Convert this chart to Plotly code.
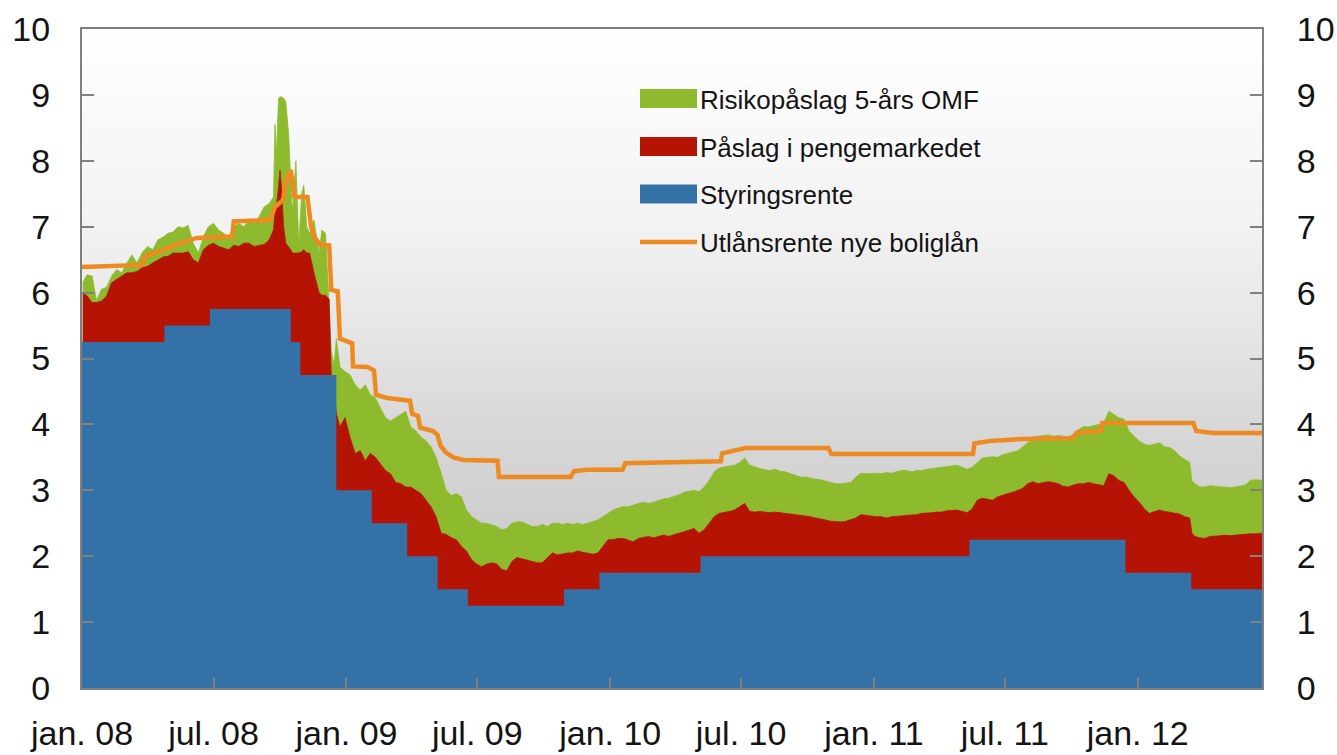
import base64
import struct
import zlib

import plotly.graph_objects as go

# ---------------- data ----------------
# Policy rate (Styringsrente), step changes
policy_dates = ["2008-01-01", "2008-04-24", "2008-06-26", "2008-10-16", "2008-10-29",
                "2008-12-18", "2009-02-05", "2009-03-26", "2009-05-07", "2009-06-18",
                "2009-10-29", "2009-12-17", "2010-05-06", "2011-05-13", "2011-12-15",
                "2012-03-15", "2012-06-21"]
policy_rate = [5.25, 5.50, 5.75, 5.25, 4.75, 3.00, 2.50, 2.00, 1.50, 1.25,
               1.50, 1.75, 2.00, 2.25, 1.75, 1.50, 1.50]

# Money-market level (policy rate + Påslag i pengemarkedet) and
# total level (+ Risikopåslag 5-års OMF)
mm_dates = [
    "2008-01-02", "2008-01-08", "2008-01-15", "2008-01-21", "2008-01-28", "2008-02-04",
    "2008-02-11", "2008-02-18", "2008-02-25", "2008-03-03", "2008-03-10", "2008-03-17",
    "2008-03-25", "2008-04-01", "2008-04-08", "2008-04-15", "2008-04-22", "2008-04-29",
    "2008-05-06", "2008-05-13", "2008-05-20", "2008-05-27", "2008-06-03", "2008-06-10",
    "2008-06-17", "2008-06-24", "2008-07-01", "2008-07-08", "2008-07-15", "2008-07-22",
    "2008-07-29", "2008-08-05", "2008-08-12", "2008-08-19", "2008-08-26", "2008-09-02",
    "2008-09-09", "2008-09-16", "2008-09-22", "2008-09-24", "2008-09-26", "2008-09-29",
    "2008-10-01", "2008-10-03", "2008-10-06", "2008-10-09", "2008-10-13", "2008-10-16",
    "2008-10-18", "2008-10-23", "2008-10-27", "2008-10-31", "2008-11-03", "2008-11-07",
    "2008-11-11", "2008-11-17", "2008-11-24", "2008-11-28", "2008-12-03", "2008-12-08",
    "2008-12-11", "2008-12-15", "2008-12-18", "2008-12-23", "2008-12-30",
    "2009-01-06", "2009-01-13", "2009-01-20", "2009-01-27", "2009-02-03", "2009-02-10",
    "2009-02-17", "2009-02-24", "2009-03-03", "2009-03-10", "2009-03-17", "2009-03-24",
    "2009-03-31", "2009-04-07", "2009-04-14", "2009-04-21", "2009-04-28", "2009-05-05",
    "2009-05-12", "2009-05-19", "2009-05-26", "2009-06-02", "2009-06-09", "2009-06-16",
    "2009-06-23", "2009-06-30", "2009-07-07", "2009-07-14", "2009-07-21", "2009-07-28",
    "2009-08-04", "2009-08-11", "2009-08-18", "2009-08-25", "2009-09-01", "2009-09-08",
    "2009-09-15", "2009-09-22", "2009-09-29", "2009-10-06", "2009-10-13", "2009-10-20",
    "2009-10-27", "2009-11-03", "2009-11-10", "2009-11-17", "2009-11-24", "2009-12-01",
    "2009-12-08", "2009-12-15", "2009-12-22", "2009-12-29",
    "2010-01-05", "2010-01-12", "2010-01-19", "2010-01-26", "2010-02-02", "2010-02-09",
    "2010-02-16", "2010-02-23", "2010-03-02", "2010-03-09", "2010-03-16", "2010-03-23",
    "2010-03-30", "2010-04-06", "2010-04-13", "2010-04-20", "2010-04-27", "2010-05-04",
    "2010-05-11", "2010-05-18", "2010-05-25", "2010-06-01", "2010-06-08", "2010-06-15",
    "2010-06-22", "2010-06-29", "2010-07-06", "2010-07-13", "2010-07-20", "2010-07-27",
    "2010-08-03", "2010-08-10", "2010-08-17", "2010-08-24", "2010-08-31", "2010-09-07",
    "2010-09-14", "2010-09-21", "2010-09-28", "2010-10-05", "2010-10-12", "2010-10-19",
    "2010-10-26", "2010-11-02", "2010-11-09", "2010-11-16", "2010-11-23", "2010-11-30",
    "2010-12-07", "2010-12-14", "2010-12-21", "2010-12-28",
    "2011-01-04", "2011-01-11", "2011-01-18", "2011-01-25", "2011-02-01", "2011-02-08",
    "2011-02-15", "2011-02-22", "2011-03-01", "2011-03-08", "2011-03-15", "2011-03-22",
    "2011-03-29", "2011-04-05", "2011-04-12", "2011-04-19", "2011-04-26", "2011-05-03",
    "2011-05-10", "2011-05-17", "2011-05-24", "2011-05-31", "2011-06-07", "2011-06-14",
    "2011-06-21", "2011-06-28", "2011-07-05", "2011-07-12", "2011-07-19", "2011-07-26",
    "2011-08-02", "2011-08-09", "2011-08-16", "2011-08-23", "2011-08-30", "2011-09-06",
    "2011-09-13", "2011-09-20", "2011-09-27", "2011-10-04", "2011-10-11", "2011-10-18",
    "2011-10-25", "2011-11-01", "2011-11-08", "2011-11-15", "2011-11-22", "2011-11-29",
    "2011-12-06", "2011-12-13", "2011-12-20", "2011-12-27",
    "2012-01-03", "2012-01-10", "2012-01-17", "2012-01-24", "2012-01-31", "2012-02-07",
    "2012-02-14", "2012-02-21", "2012-02-28", "2012-03-06", "2012-03-13", "2012-03-16",
    "2012-03-20", "2012-03-27", "2012-04-03", "2012-04-10", "2012-04-17", "2012-04-24",
    "2012-05-01", "2012-05-08", "2012-05-15", "2012-05-22", "2012-05-29", "2012-06-05",
    "2012-06-12", "2012-06-21"]

mm_level = [
    6.00, 5.95, 5.85, 5.85, 5.87, 5.95,
    6.15, 6.20, 6.25, 6.30, 6.30, 6.32,
    6.38, 6.40, 6.45, 6.50, 6.54, 6.55,
    6.60, 6.60, 6.60, 6.62, 6.50, 6.45,
    6.65, 6.72, 6.75, 6.70, 6.68, 6.65,
    6.72, 6.70, 6.75, 6.75, 6.70, 6.72,
    6.73, 6.80, 6.95, 7.20, 7.30, 7.60,
    7.86, 7.60, 7.00, 6.75, 6.70, 6.65,
    6.60, 6.60, 6.60, 6.62, 6.65, 6.60,
    6.60, 6.30, 6.00, 5.96, 5.96, 5.90,
    4.70, 4.50, 4.17, 3.96, 4.10,
    3.80, 3.56, 3.60, 3.45, 3.56, 3.50,
    3.40, 3.30, 3.25, 3.12, 3.10, 3.05,
    3.05, 3.00, 2.95, 2.85, 2.75, 2.60,
    2.35, 2.33, 2.28, 2.25, 2.15, 2.08,
    1.95, 1.88, 1.84, 1.88, 1.90, 1.88,
    1.80, 1.78, 1.92, 1.98, 1.96, 1.94,
    1.92, 1.90, 1.90, 1.98, 2.05, 2.02,
    2.04, 2.05, 2.05, 2.08, 2.06, 2.05,
    2.03, 2.05, 2.15, 2.25,
    2.25, 2.27, 2.27, 2.25, 2.22, 2.27,
    2.28, 2.30, 2.28, 2.30, 2.32, 2.30,
    2.33, 2.35, 2.37, 2.40, 2.42, 2.35,
    2.40, 2.50, 2.60, 2.65, 2.66, 2.68,
    2.70, 2.75, 2.80, 2.68, 2.67, 2.68,
    2.67, 2.66, 2.67, 2.66, 2.65, 2.64,
    2.64, 2.63, 2.61, 2.60, 2.58, 2.57,
    2.55, 2.53, 2.52, 2.52, 2.53, 2.55,
    2.58, 2.63, 2.62, 2.60,
    2.60, 2.60, 2.58, 2.60, 2.60, 2.61,
    2.62, 2.62, 2.63, 2.65, 2.65, 2.66,
    2.67, 2.67, 2.69, 2.70, 2.70, 2.68,
    2.66, 2.72, 2.85, 2.88, 2.86, 2.85,
    2.90, 2.93, 2.95, 2.97, 3.00, 3.03,
    3.10, 3.13, 3.10, 3.12, 3.13, 3.12,
    3.10, 3.06, 3.05, 3.08, 3.10, 3.10,
    3.12, 3.10, 3.08, 3.07, 3.25, 3.22,
    3.15, 3.12, 3.00, 2.90,
    2.82, 2.72, 2.65, 2.68, 2.70, 2.68,
    2.67, 2.66, 2.64, 2.60, 2.58, 2.35,
    2.30, 2.28, 2.27, 2.30, 2.30, 2.31,
    2.32, 2.31, 2.32, 2.33, 2.33, 2.34,
    2.34, 2.35]

total_level = [
    6.15, 6.27, 6.25, 5.88, 6.05, 6.08,
    6.25, 6.35, 6.30, 6.45, 6.57, 6.45,
    6.62, 6.70, 6.65, 6.80, 6.84, 6.90,
    6.92, 7.00, 6.98, 7.02, 6.75, 6.60,
    6.85, 7.00, 7.05, 6.95, 6.90, 6.84,
    7.00, 7.05, 7.00, 7.10, 7.05, 7.15,
    7.30, 7.35, 7.45, 8.55, 8.10, 8.95,
    8.97, 8.97, 8.95, 8.90, 8.40, 7.80,
    7.20, 8.00, 6.70, 7.50, 7.63, 7.00,
    6.90, 7.10, 6.60, 6.95, 6.90, 5.80,
    5.10, 4.90, 5.30, 4.87, 4.80,
    4.75, 4.60, 4.52, 4.60, 4.45, 4.40,
    4.25, 4.10, 4.05, 4.10, 4.15, 4.20,
    3.96, 3.90, 3.81, 3.75, 3.66, 3.50,
    3.26, 3.00, 2.92, 2.95, 2.90, 2.70,
    2.60, 2.55, 2.50, 2.50, 2.48, 2.45,
    2.40, 2.42, 2.50, 2.52, 2.52, 2.48,
    2.45, 2.45, 2.48, 2.45, 2.50, 2.50,
    2.48, 2.50, 2.48, 2.50, 2.48, 2.50,
    2.52, 2.55, 2.60, 2.65,
    2.70, 2.73, 2.75, 2.75, 2.78, 2.80,
    2.82, 2.80, 2.82, 2.85, 2.87, 2.88,
    2.90, 2.93, 2.97, 2.98, 3.00, 2.98,
    3.05, 3.15, 3.28, 3.34, 3.35, 3.36,
    3.38, 3.42, 3.49, 3.38, 3.35, 3.33,
    3.31, 3.30, 3.32, 3.29, 3.28, 3.25,
    3.22, 3.20, 3.20, 3.18, 3.17, 3.16,
    3.14, 3.11, 3.10, 3.10, 3.11, 3.12,
    3.20, 3.26, 3.25, 3.26,
    3.26, 3.25, 3.27, 3.26, 3.28, 3.30,
    3.30, 3.28, 3.30, 3.30, 3.32, 3.33,
    3.35, 3.36, 3.36, 3.38, 3.38, 3.35,
    3.32, 3.35, 3.42, 3.49, 3.50, 3.51,
    3.50, 3.54, 3.56, 3.58, 3.60, 3.66,
    3.72, 3.81, 3.82, 3.83, 3.84, 3.82,
    3.83, 3.82, 3.81, 3.85, 3.92, 3.97,
    3.96, 3.98, 4.00, 4.02, 4.20, 4.15,
    4.10, 4.08, 3.90, 3.82,
    3.75, 3.70, 3.68, 3.70, 3.72, 3.66,
    3.65, 3.60, 3.52, 3.47, 3.42, 3.15,
    3.10, 3.05, 3.05, 3.07, 3.06, 3.06,
    3.05, 3.04, 3.05, 3.06, 3.08, 3.15,
    3.16, 3.15]

# Lending rate on new mortgages (Utlånsrente nye boliglån)
lend_dates = ["2008-01-01", "2008-03-25", "2008-03-28", "2008-04-22", "2008-05-16",
              "2008-06-08", "2008-07-27", "2008-07-29", "2008-09-17", "2008-09-24",
              "2008-10-05", "2008-10-11", "2008-10-16", "2008-10-21", "2008-11-08",
              "2008-11-13", "2008-11-17", "2008-11-26", "2008-12-08", "2008-12-11",
              "2008-12-20", "2008-12-23", "2009-01-09", "2009-01-10", "2009-01-30",
              "2009-02-08", "2009-02-11", "2009-02-26", "2009-03-30", "2009-04-02",
              "2009-04-10", "2009-04-13", "2009-05-01", "2009-05-07", "2009-05-11",
              "2009-05-18", "2009-05-29", "2009-06-12", "2009-07-29", "2009-07-31",
              "2009-11-07", "2009-11-12", "2009-11-30", "2010-01-18", "2010-01-22",
              "2010-06-03", "2010-06-05", "2010-06-23", "2010-07-07", "2010-10-30",
              "2010-11-03", "2011-05-18", "2011-05-20", "2011-06-11", "2011-07-27",
              "2011-10-04", "2011-10-08", "2011-11-11", "2011-11-13", "2012-03-18",
              "2012-03-22", "2012-04-14", "2012-06-21"]
lend_rate = [6.39, 6.42, 6.55, 6.64, 6.75,
             6.83, 6.85, 7.08, 7.10, 7.30,
             7.40, 7.75, 7.86, 7.45, 7.45,
             7.00, 6.85, 6.72, 6.72, 6.04,
             6.02, 5.30, 5.23, 4.88, 4.87,
             4.82, 4.45, 4.40, 4.36, 4.16,
             4.13, 3.95, 3.90, 3.84, 3.68,
             3.58, 3.50, 3.46, 3.45, 3.20,
             3.20, 3.29, 3.31, 3.31, 3.41,
             3.44, 3.56, 3.60, 3.64, 3.64,
             3.55, 3.55, 3.71, 3.75, 3.78,
             3.79, 3.87, 3.90, 4.02, 4.02,
             3.90, 3.87, 3.87]

tick_dates = ["2008-01-01", "2008-07-01", "2009-01-01", "2009-07-01", "2010-01-01",
              "2010-07-01", "2011-01-01", "2011-07-01", "2012-01-01"]
tick_text = ["jan. 08", "jul. 08", "jan. 09", "jul. 09", "jan. 10",
             "jul. 10", "jan. 11", "jul. 11", "jan. 12"]
y_ticks = list(range(0, 11))

series_names = ["Risikopåslag 5-års OMF", "Påslag i pengemarkedet",
                "Styringsrente", "Utlånsrente nye boliglån"]

# ---------------- styles ----------------
GREEN = "#8DBB2D"
RED = "#B51405"
BLUE = "#3471A6"
ORANGE = "#EE8A22"
AXIS = "#808080"
FONT = "Liberation Sans"
TEXT = "#141414"


def gradient_png(stops, n=256):
    """Vertical grey gradient image (top -> bottom) for the plot background."""
    raw = b""
    for i in range(n):
        t = i / (n - 1)
        for j in range(len(stops) - 1):
            t0, c0 = stops[j]
            t1, c1 = stops[j + 1]
            if t0 <= t <= t1:
                f = (t - t0) / (t1 - t0) if t1 > t0 else 0
                g = round(c0 + (c1 - c0) * f)
                break
        raw += b"\x00" + bytes([g, g, g, g, g, g])

    def chunk(tag, data):
        return (struct.pack(">I", len(data)) + tag + data +
                struct.pack(">I", zlib.crc32(tag + data) & 0xFFFFFFFF))

    png = (b"\x89PNG\r\n\x1a\n" +
           chunk(b"IHDR", struct.pack(">IIBBBBB", 2, n, 8, 2, 0, 0, 0)) +
           chunk(b"IDAT", zlib.compress(raw)) + chunk(b"IEND", b""))
    return "data:image/png;base64," + base64.b64encode(png).decode()


bg_src = gradient_png([(0.0, 255), (0.3, 242), (0.45, 231), (0.6, 216), (0.8, 204), (1.0, 196)])

fig = go.Figure()

fig.add_trace(go.Scatter(x=mm_dates, y=total_level, name=series_names[0], mode="lines",
                         line=dict(width=0.8, color=GREEN), fill="tozeroy", fillcolor=GREEN,
                         showlegend=False, hoverinfo="skip"))
fig.add_trace(go.Scatter(x=mm_dates, y=mm_level, name=series_names[1], mode="lines",
                         line=dict(width=0.8, color=RED), fill="tozeroy", fillcolor=RED,
                         showlegend=False, hoverinfo="skip"))
fig.add_trace(go.Scatter(x=policy_dates, y=policy_rate, name=series_names[2], mode="lines",
                         line=dict(width=0, color=BLUE, shape="hv"), fill="tozeroy",
                         fillcolor=BLUE, showlegend=False, hoverinfo="skip"))
fig.add_trace(go.Scatter(x=lend_dates, y=lend_rate, name=series_names[3], mode="lines",
                         line=dict(width=4.5, color=ORANGE), yaxis="y2",
                         showlegend=False, hoverinfo="skip"))

# ---------------- custom legend ----------------
L, T, PW, PH = 82, 29, 1180, 659


def px_x(p):
    return (p - L) / PW


def px_y(p):
    return (T + PH - p) / PH


shapes = []
annotations = []
legend_rows = [(series_names[0], GREEN, 98.5, "box"), (series_names[1], RED, 146.5, "box"),
               (series_names[2], BLUE, 194, "box"), (series_names[3], ORANGE, 242, "line")]
for name, col, cy, kind in legend_rows:
    if kind == "box":
        shapes.append(dict(type="rect", xref="paper", yref="paper",
                           x0=px_x(640), x1=px_x(697), y0=px_y(cy + 9.5), y1=px_y(cy - 9.5),
                           fillcolor=col, line=dict(width=0), layer="above"))
    else:
        shapes.append(dict(type="line", xref="paper", yref="paper",
                           x0=px_x(640), x1=px_x(697), y0=px_y(cy), y1=px_y(cy),
                           line=dict(color=col, width=4.5), layer="above"))
    annotations.append(dict(text=name, xref="paper", yref="paper", x=px_x(698), y=px_y(cy + 1),
                            xanchor="left", yanchor="middle", showarrow=False,
                            font=dict(family=FONT, size=26, color=TEXT)))

axis_common = dict(showgrid=False, zeroline=False, showline=True, linecolor=AXIS, linewidth=2,
                   ticks="inside", tickcolor=AXIS, tickwidth=1.5, automargin=False,
                   tickfont=dict(family=FONT, size=34, color=TEXT))

fig.update_layout(
    width=1337, height=755,
    margin=dict(l=L, r=1337 - L - PW, t=T, b=755 - T - PH),
    paper_bgcolor="white", plot_bgcolor="rgba(0,0,0,0)",
    showlegend=False,
    xaxis=dict(type="date", range=["2008-01-01", "2012-06-21"], tickvals=tick_dates,
               ticktext=tick_text, ticklen=10, mirror=True, ticklabelstandoff=14,
               **axis_common),
    yaxis=dict(range=[0, 10], tickvals=y_ticks, ticklen=12, mirror=True,
               ticklabelstandoff=23, **axis_common),
    yaxis2=dict(range=[0, 10], tickvals=y_ticks, ticklen=12, overlaying="y", side="right",
                ticklabelstandoff=26, **axis_common),
    images=[dict(source=bg_src, xref="paper", yref="paper", x=0, y=1, sizex=1, sizey=1,
                 sizing="stretch", layer="below")],
    shapes=shapes,
    annotations=annotations,
)

fig.write_html("out.html", config={"displayModeBar": False},
               post_script="document.body.style.margin='0';document.body.style.overflow='hidden';")
